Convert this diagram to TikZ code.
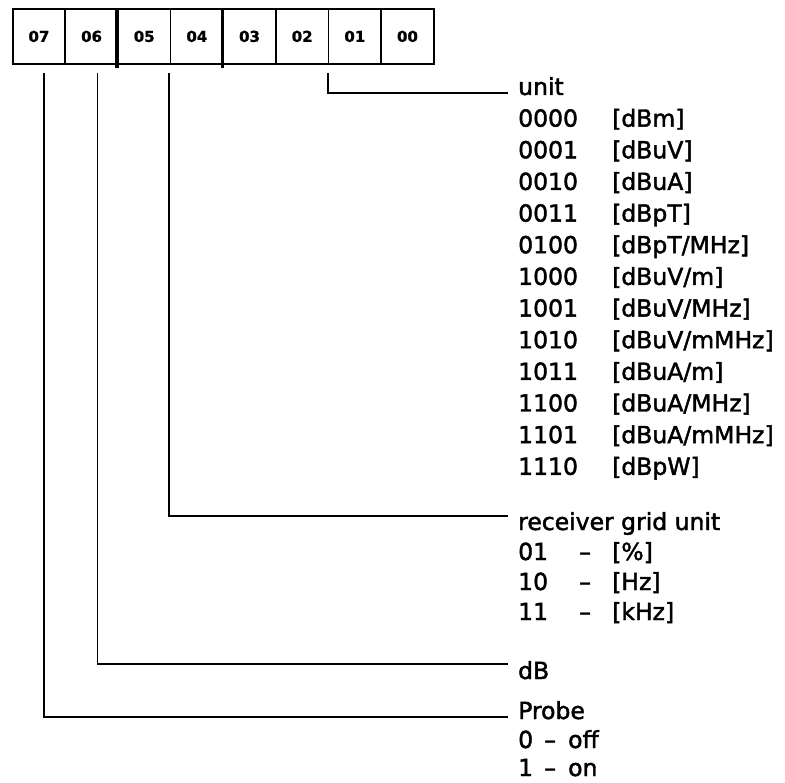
\documentclass[tikz,border=0pt]{standalone}
\usepackage{fontspec}
\setmainfont{DejaVu Sans}[FakeBold=1.8]
\newfontfamily\bitfont{DejaVu Sans}[FakeBold=1.2]
\begin{document}
\begin{tikzpicture}[x=1pt,y=-1pt,
  bitbox/.style={draw,line width=1.8pt,minimum width=52.65pt,minimum height=55pt,inner sep=0pt,anchor=north west,font=\bitfont\fontsize{15}{17}\selectfont\bfseries},
  lbl/.style={anchor=base west,inner sep=0pt,font=\fontsize{23.5}{28}\selectfont},
  conn/.style={line width=1.8pt},
  nib/.style={line width=3.4pt}]
\useasboundingbox (0,0) rectangle (785,783);
% register boxes
\foreach \i/\n in {0/07,1/06,2/05,3/04,4/03,5/02,6/01,7/00}
  \node[bitbox] (b\n) at ({11.7+52.65*\i},8) {\n};
\draw[nib] (b05.north west) -- ([yshift=-3pt]b05.south west);
\draw[nib] (b03.north west) -- ([yshift=-3pt]b03.south west);
% labels: unit
\node[lbl] (unit) at (518,95) {unit};
\foreach \k/\c/\u in {1/0000/{[dBm]},2/0001/{[dBuV]},3/0010/{[dBuA]},4/0011/{[dBpT]},5/0100/{[dBpT/MHz]},6/1000/{[dBuV/m]},7/1001/{[dBuV/MHz]},8/1010/{[dBuV/mMHz]},9/1011/{[dBuA/m]},10/1100/{[dBuA/MHz]},11/1101/{[dBuA/mMHz]},12/1110/{[dBpW]}}{
  \node[lbl] (c\k) at (518,{95+31.65*\k}) {\c};
  \node[lbl] (u\k) at (612,{95+31.65*\k}) {\u};
}
% receiver grid unit
\node[lbl] (rgu) at (518,530) {receiver grid unit};
\foreach \k/\c/\u in {1/01/{[\%]},2/10/{[Hz]},3/11/{[kHz]}}{
  \node[lbl] (rc\k) at (518,{530+30*\k}) {\c};
  \node[lbl] (rd\k) at (579,{530+30*\k}) {--};
  \node[lbl] (ru\k) at (612,{530+30*\k}) {\u};
}
% dB
\node[lbl] (db) at (518,679) {dB};
% Probe
\node[lbl] (probe) at (518,719) {Probe};
\node[lbl] (p0) at (518,748) {0};
\node[lbl] (p0d) at (544,748) {--};
\node[lbl] (p0t) at (568,748) {off};
\node[lbl] (p1) at (518,776) {1};
\node[lbl] (p1d) at (544,776) {--};
\node[lbl] (p1t) at (568,776) {on};
% connector end points
\coordinate (ue) at (508,93);
\coordinate (re) at (508,516);
\coordinate (de) at (508,664);
\coordinate (pe) at (508,717);
% connectors
\draw[conn] ([yshift=-8pt]b01.south west) |- (ue);
\draw[conn] ([shift={(-1pt,-8pt)}]b04.south west) |- (re);
\draw[conn] ([shift={(6pt,-8pt)}]b06.south) |- (de);
\draw[conn] ([shift={(5pt,-8pt)}]b07.south) |- (pe);
\end{tikzpicture}
\end{document}
